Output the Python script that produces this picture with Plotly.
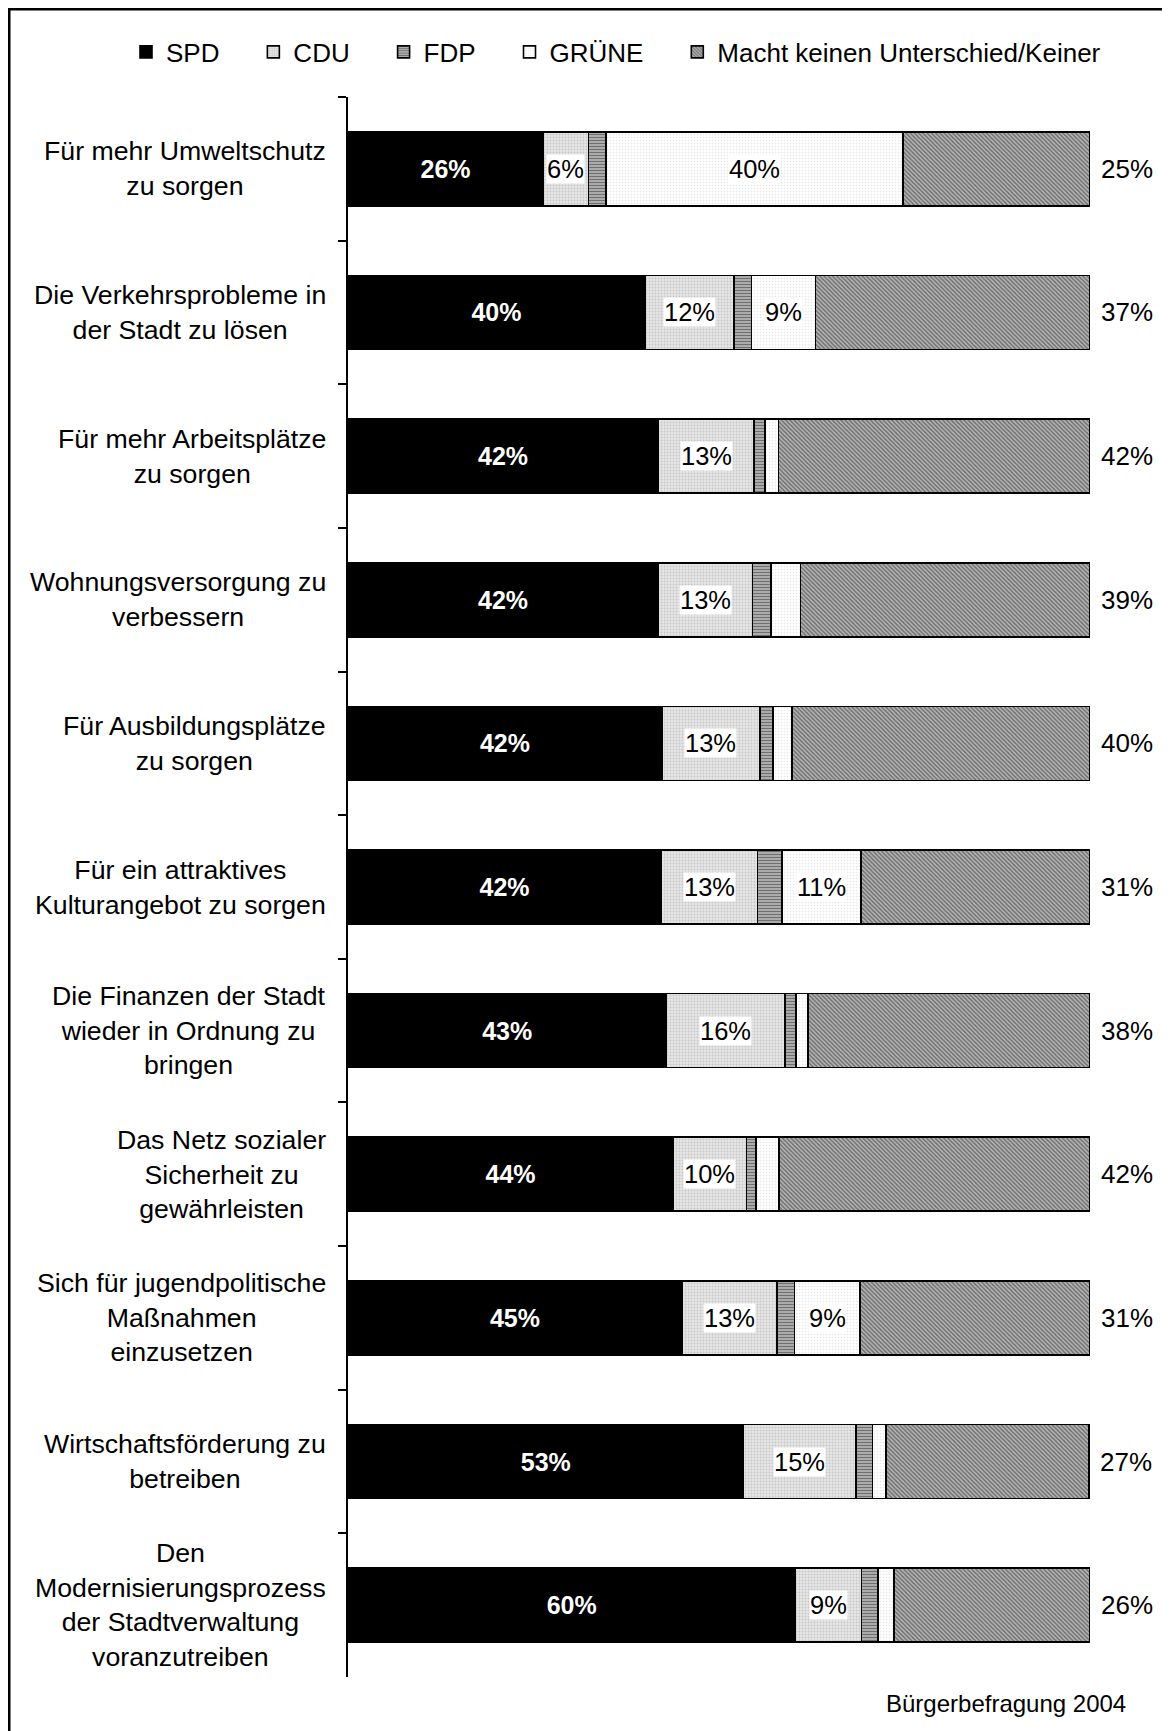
import plotly.graph_objects as go

# ---------------- data ----------------
categories = [
    "Für mehr Umweltschutz<br>zu sorgen",
    "Die Verkehrsprobleme in<br>der Stadt zu lösen",
    "Für mehr Arbeitsplätze<br>zu sorgen",
    "Wohnungsversorgung zu<br>verbessern",
    "Für Ausbildungsplätze<br>zu sorgen",
    "Für ein attraktives<br>Kulturangebot zu sorgen",
    "Die Finanzen der Stadt<br>wieder in Ordnung zu<br>bringen",
    "Das Netz sozialer<br>Sicherheit zu<br>gewährleisten",
    "Sich für jugendpolitische<br>Maßnahmen<br>einzusetzen",
    "Wirtschaftsförderung zu<br>betreiben",
    "Den<br>Modernisierungsprozess<br>der Stadtverwaltung<br>voranzutreiben",
]
spd = [26.3, 40.0, 41.8, 41.8, 42.3, 42.2, 42.9, 43.8, 45.0, 53.3, 60.3]
cdu = [6.1, 12.0, 12.9, 12.7, 13.2, 13.0, 16.0, 9.9, 12.8, 15.2, 8.9]
fdp = [2.4, 2.4, 1.5, 2.5, 1.8, 3.3, 1.5, 1.3, 2.4, 2.2, 2.2]
gruene = [40.0, 8.6, 1.8, 4.0, 2.5, 10.6, 1.6, 3.1, 8.8, 1.8, 2.2]
keiner = [25.2, 37.0, 42.0, 39.0, 40.2, 30.9, 38.0, 41.9, 31.0, 27.4, 26.4]

series_names = ["SPD", "CDU", "FDP", "GRÜNE", "Macht keinen Unterschied/Keiner"]
source_note = "Bürgerbefragung 2004"

# ---------------- layout helpers ----------------
W, H = 1170, 1731
OFF = 8  # page body margin
# target page-pixel positions of the plot area
L, R, T, B = 348, 1090, 97, 1677
FONT = "Liberation Sans, Arial, sans-serif"


def px_x(p):
    return (p - L) / (R - L)


def px_y(p):
    return (B - p) / (B - T)


NB = "\u00a0" * 4  # legend spacing

fig = go.Figure()

edge = dict(color="black", width=1.6)

fig.add_trace(go.Bar(
    y=categories, x=spd, orientation="h", name=series_names[0] + NB,
    marker=dict(color="black", line=edge),
    texttemplate="<b>%{x:.0f}%</b>", textposition="inside",
    insidetextanchor="middle", textangle=0,
    textfont=dict(color="white", size=25, family=FONT),
))
fig.add_trace(go.Bar(
    y=categories, x=cdu, orientation="h", name=series_names[1] + NB,
    marker=dict(color="#e4e4e4", line=edge,
                pattern=dict(shape=".", fgcolor="#a8a8a8", bgcolor="#e6e6e6",
                             size=3, solidity=0.35)),
))
fig.add_trace(go.Bar(
    y=categories, x=fdp, orientation="h", name=series_names[2] + NB,
    marker=dict(color="#888888", line=edge,
                pattern=dict(shape="-", fgcolor="#1e1e1e", bgcolor="#c0c0c0",
                             size=3, solidity=0.5)),
))
fig.add_trace(go.Bar(
    y=categories, x=gruene, orientation="h", name=series_names[3] + NB,
    marker=dict(color="white", line=edge,
                pattern=dict(shape=".", fgcolor="#cfcfcf", bgcolor="#ffffff",
                             size=3, solidity=0.25)),
))
fig.add_trace(go.Bar(
    y=categories, x=keiner, orientation="h", name=series_names[4],
    marker=dict(color="#999999", line=edge,
                pattern=dict(shape="\\", fgcolor="#262626", bgcolor="#b8b8b8",
                             size=3, solidity=0.5)),
))

annotations = []
# category labels
for c in categories:
    annotations.append(dict(
        x=0, xref="paper", xshift=-20, xanchor="right",
        y=c, yref="y", yanchor="middle",
        text=c, align="center", showarrow=False,
        font=dict(size=26.7, color="black", family=FONT),
    ))

# CDU and GRÜNE labels with white box, outside labels for "Keiner"
for i, c in enumerate(categories):
    start_cdu = spd[i]
    start_gr = spd[i] + cdu[i] + fdp[i]
    for start, val in ((start_cdu, cdu[i]), (start_gr, gruene[i])):
        if val >= 5:
            annotations.append(dict(
                x=start + val / 2, xref="x", xanchor="center",
                y=c, yref="y", yanchor="middle",
                text=f"{round(val)}%", showarrow=False,
                bgcolor="white", borderpad=0,
                font=dict(size=25.5, color="black", family=FONT),
            ))
    total = spd[i] + cdu[i] + fdp[i] + gruene[i] + keiner[i]
    annotations.append(dict(
        x=total, xref="x", xanchor="left", xshift=9,
        y=c, yref="y", yanchor="middle",
        text=f"{round(keiner[i])}%", showarrow=False,
        font=dict(size=26, color="black", family=FONT),
    ))

annotations.append(dict(
    x=px_x(1128), xref="paper", xanchor="right",
    y=px_y(1703), yref="paper", yanchor="middle",
    text=source_note, showarrow=False,
    font=dict(size=24, color="black", family=FONT),
))

fig.update_layout(
    width=W, height=H,
    margin=dict(l=L - OFF, r=W - (R - OFF), t=T - OFF, b=H - (B - OFF), pad=0),
    barmode="stack", bargap=0.485,
    paper_bgcolor="white", plot_bgcolor="white",
    font=dict(family=FONT, size=26, color="black"),
    showlegend=True,
    legend=dict(orientation="h", x=px_x(126), xanchor="left",
                y=px_y(52), yanchor="middle",
                font=dict(size=26, family=FONT), traceorder="normal",
                bgcolor="rgba(0,0,0,0)", itemwidth=30),
    xaxis=dict(range=[0, 100], visible=False, fixedrange=True),
    yaxis=dict(type="category", autorange="reversed", showticklabels=False,
               showline=True, linecolor="black", linewidth=2,
               ticks="outside", tickson="boundaries", ticklen=8,
               tickwidth=2, tickcolor="black", showgrid=False, zeroline=False),
    annotations=annotations,
    shapes=[dict(type="rect", xref="paper", yref="paper",
                 x0=px_x(9), x1=px_x(1220), y0=px_y(1800), y1=px_y(9),
                 line=dict(color="black", width=3), layer="above")],
)

fig.write_html("out.html")
